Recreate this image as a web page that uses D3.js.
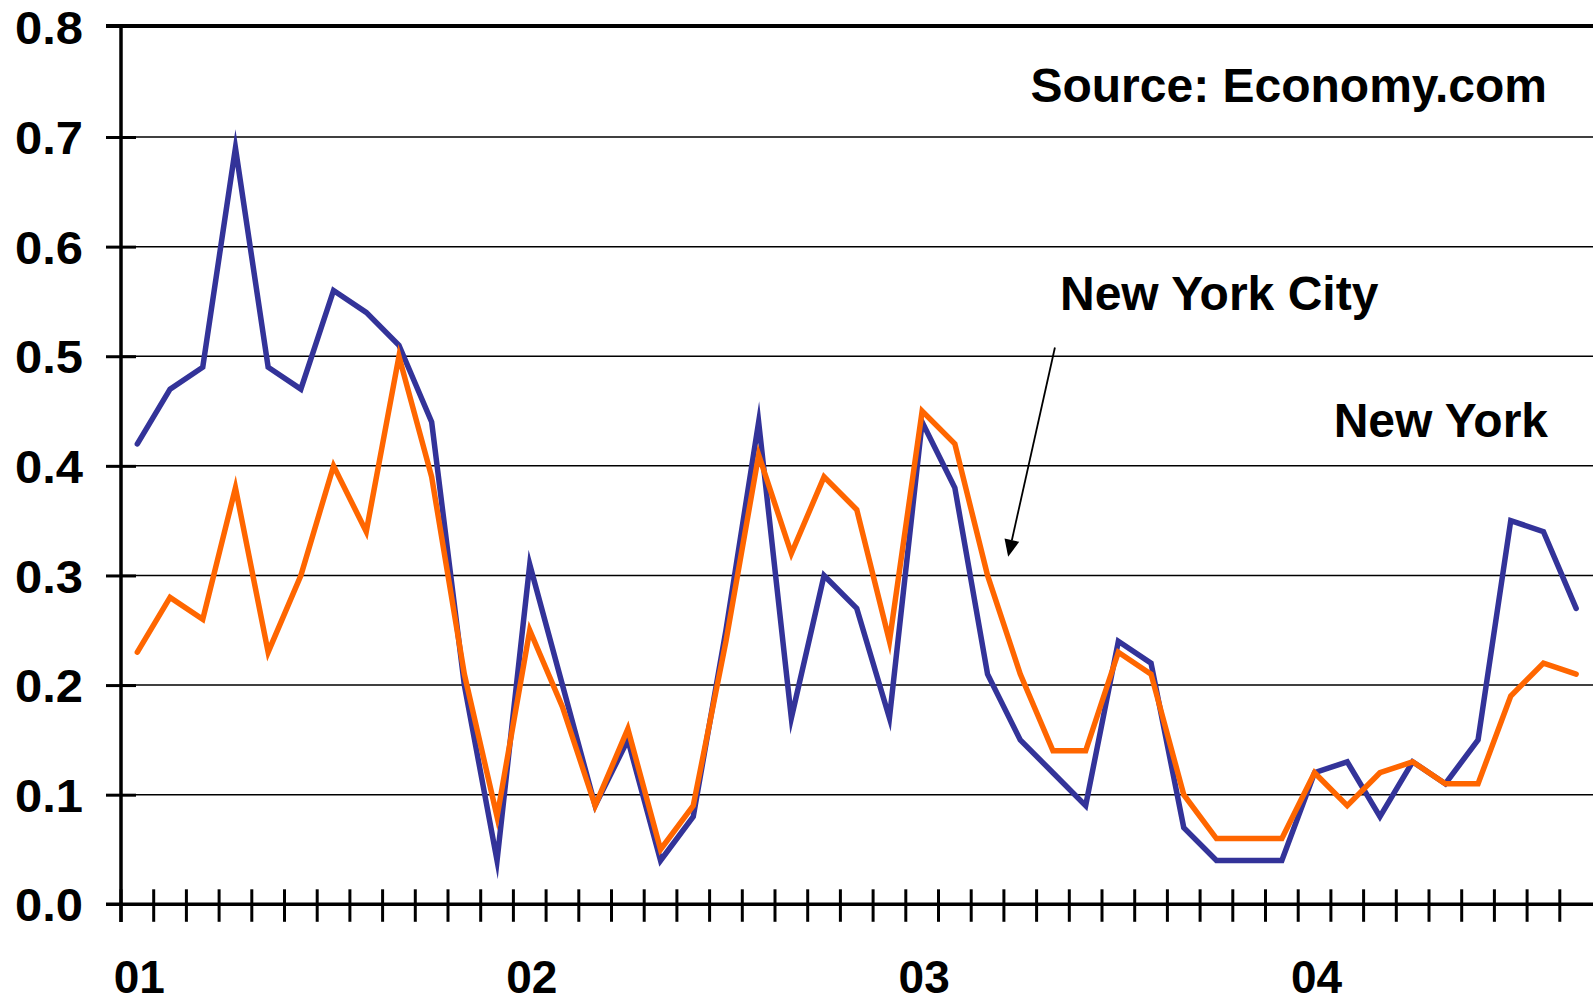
<!DOCTYPE html>
<html>
<head>
<meta charset="utf-8">
<script src="https://cdn.jsdelivr.net/npm/d3@7"></script>
<style>
  html, body { margin: 0; padding: 0; background: #fff; }
  svg { display: block; }
  text { font-family: "Liberation Sans", Arial, Helvetica, sans-serif; font-weight: bold; fill: #000; }
</style>
</head>
<body>
<svg id="chart" width="1593" height="1003"></svg>
<script>
// ---- Data ----
const months = [];
for (let y = 2001; y <= 2004; y++) {
  for (let m = 1; m <= 12; m++) {
    if (y === 2004 && m > 9) break;
    months.push(y + "-" + String(m).padStart(2, "0"));
  }
}
const yearLabels = { "2001-01": "01", "2002-01": "02", "2003-01": "03", "2004-01": "04" };

// New York (blue)
const newYork = [
  0.42, 0.47, 0.49, 0.69, 0.49, 0.47, 0.56, 0.54, 0.51, 0.44, 0.20, 0.04,
  0.31, 0.20, 0.09, 0.15, 0.04, 0.08, 0.25, 0.44, 0.17, 0.30, 0.27, 0.17,
  0.44, 0.38, 0.21, 0.15, 0.12, 0.09, 0.24, 0.22, 0.07, 0.04, 0.04, 0.04,
  0.12, 0.13, 0.08, 0.13, 0.11, 0.15, 0.35, 0.34, 0.27
];
// New York City (orange)
const newYorkCity = [
  0.23, 0.28, 0.26, 0.38, 0.23, 0.30, 0.40, 0.34, 0.50, 0.39, 0.21, 0.08,
  0.25, 0.18, 0.09, 0.16, 0.05, 0.09, 0.24, 0.41, 0.32, 0.39, 0.36, 0.24,
  0.45, 0.42, 0.30, 0.21, 0.14, 0.14, 0.23, 0.21, 0.10, 0.06, 0.06, 0.06,
  0.12, 0.09, 0.12, 0.13, 0.11, 0.11, 0.19, 0.22, 0.21
];
const yTicks = [0, 0.1, 0.2, 0.3, 0.4, 0.5, 0.6, 0.7, 0.8];
// arrow annotation in data coordinates: [monthIndex, value]
const arrowFrom = [28.06, 0.508];
const arrowTo = [26.63, 0.317];

// ---- Layout ----
const svg = d3.select("#chart");
const left = 121, step = 32.7;
const x = d3.scaleBand().domain(months).range([left, left + months.length * step]).padding(0);
const y = d3.scaleLinear().domain([0, 0.8]).range([904.3, 27.4]);
const cx = i => x(months[0]) + x.bandwidth() * (i + 0.5);

// gridlines
svg.append("g").selectAll("line").data(yTicks.filter(d => d > 0 && d < 0.8)).join("line")
  .attr("x1", left).attr("x2", 1593)
  .attr("y1", d => y(d)).attr("y2", d => y(d))
  .attr("stroke", "#000").attr("stroke-width", 1.5);

// top border line at 0.8
svg.append("line").attr("x1", 106).attr("x2", 1593)
  .attr("y1", y(0.8) - 1.5).attr("y2", y(0.8) - 1.5)
  .attr("stroke", "#000").attr("stroke-width", 4);

// Y axis
const yAxis = svg.append("g").attr("transform", `translate(${left},0)`)
  .call(d3.axisLeft(y).tickValues(yTicks).tickSizeInner(15).tickSizeOuter(0).tickPadding(23)
    .tickFormat(d3.format(".1f")));
yAxis.select(".domain").remove();
yAxis.selectAll(".tick line").attr("x1", 15).attr("stroke", "#000").attr("stroke-width", 3);
yAxis.selectAll(".tick").filter(d => d === 0.8 || d === 0).select("line").remove();
yAxis.selectAll(".tick text").attr("font-size", 46).attr("dy", "0.36em")
  .attr("textLength", 68).attr("lengthAdjust", "spacingAndGlyphs")
  .style("font-family", '"Liberation Sans", Arial, sans-serif').style("font-weight", "bold");
svg.append("line").attr("x1", left).attr("x2", left).attr("y1", y(0.8) - 3).attr("y2", 922)
  .attr("stroke", "#000").attr("stroke-width", 3.5);

// X axis
svg.append("line").attr("x1", 106).attr("x2", 1593).attr("y1", y(0)).attr("y2", y(0))
  .attr("stroke", "#000").attr("stroke-width", 3.5);
svg.append("g").selectAll("line").data(months).join("line")
  .attr("x1", d => x(d)).attr("x2", d => x(d))
  .attr("y1", y(0) - 15).attr("y2", y(0) + 17.5)
  .attr("stroke", "#000").attr("stroke-width", 3);
svg.append("g").selectAll("text").data(months.filter(m => yearLabels[m])).join("text")
  .attr("x", d => x(d) + x.bandwidth() / 2 + 2).attr("y", 993)
  .attr("text-anchor", "middle").attr("font-size", 46)
  .text(d => yearLabels[d]);

// Lines
const line = d3.line().x((d, i) => cx(i)).y(d => y(d));
svg.append("path").datum(newYork).attr("d", line)
  .attr("fill", "none").attr("stroke", "#333399").attr("stroke-width", 5.5)
  .attr("stroke-linejoin", "miter").attr("stroke-miterlimit", 10).attr("stroke-linecap", "round");
svg.append("path").datum(newYorkCity).attr("d", line)
  .attr("fill", "none").attr("stroke", "#FF6600").attr("stroke-width", 5.5)
  .attr("stroke-linejoin", "miter").attr("stroke-miterlimit", 10).attr("stroke-linecap", "round");

// Arrow
const ax1 = cx(arrowFrom[0]), ay1 = y(arrowFrom[1]);
const ax2 = cx(arrowTo[0]), ay2 = y(arrowTo[1]);
const ang = Math.atan2(ay2 - ay1, ax2 - ax1);
const headLen = 17, headW = 7.5;
const bx = ax2 - headLen * Math.cos(ang), by = ay2 - headLen * Math.sin(ang);
svg.append("line").attr("x1", ax1).attr("y1", ay1).attr("x2", bx).attr("y2", by)
  .attr("stroke", "#000").attr("stroke-width", 1.8);
svg.append("path")
  .attr("d", `M${ax2},${ay2} L${bx + headW * Math.sin(ang)},${by - headW * Math.cos(ang)} L${bx - headW * Math.sin(ang)},${by + headW * Math.cos(ang)} Z`)
  .attr("fill", "#000");

// Text annotations
svg.append("text").attr("x", 1547).attr("y", 101.5).attr("text-anchor", "end")
  .attr("font-size", 48).text("Source: Economy.com");
svg.append("text").attr("x", 1060).attr("y", 310).attr("text-anchor", "start")
  .attr("font-size", 48).text("New York City");
svg.append("text").attr("x", 1548).attr("y", 437).attr("text-anchor", "end")
  .attr("font-size", 48).text("New York");
</script>
</body>
</html>
